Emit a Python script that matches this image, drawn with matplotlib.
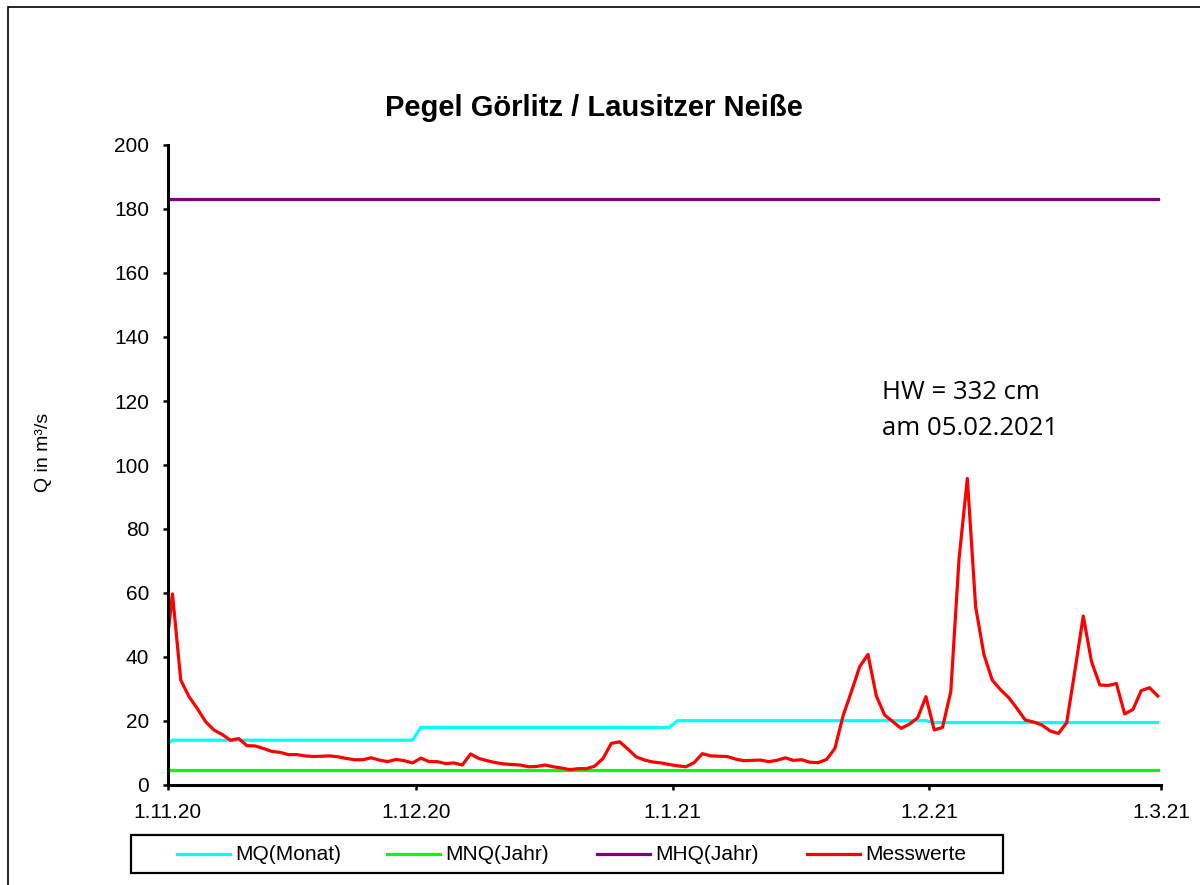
import numpy as np
import matplotlib.pyplot as plt
from matplotlib.patches import Rectangle
from matplotlib.lines import Line2D

plt.rcParams['font.family'] = ['Liberation Sans', 'DejaVu Sans']

# ---------------------------------------------------------------------------
# Daten (Tage ab 1.11.20)
# ---------------------------------------------------------------------------
tick_days = [0, 30, 61, 92, 120]
tick_labels = ["1.11.20", "1.12.20", "1.1.21", "1.2.21", "1.3.21"]

messwerte_start = 46.0
messwerte = [
    59.7, 32.8, 27.6, 23.9, 19.8, 17.2, 15.8, 14.0, 14.5, 12.3,
    12.2, 11.4, 10.5, 10.2, 9.5, 9.5, 9.1, 8.9, 9.0, 9.1,
    8.8, 8.3, 7.9, 7.9, 8.5, 7.8, 7.3, 8.0, 7.6, 6.9,
    8.4, 7.3, 7.3, 6.7, 6.9, 6.25, 9.7, 8.3, 7.6, 7.0,
    6.6, 6.4, 6.25, 5.7, 5.8, 6.25, 5.7, 5.3, 4.8, 5.1,
    5.1, 5.9, 8.3, 13.0, 13.5, 11.25, 8.8, 7.8, 7.2, 6.9,
    6.4, 6.0, 5.7, 7.0, 9.8, 9.1, 9.0, 8.9, 8.1, 7.6,
    7.7, 7.8, 7.3, 7.7, 8.5, 7.7, 7.9, 7.1, 7.0, 8.0,
    11.4, 21.7, 29.2, 37.0, 40.8, 27.9, 21.9, 19.8, 17.7, 19.0,
    21.0, 27.6, 17.2, 18.0, 29.2, 70.8, 95.8, 55.7, 40.8, 32.8,
    29.8, 27.3, 23.9, 20.3, 19.7, 18.75, 16.9, 16.1, 19.5, 35.9,
    52.8, 38.5, 31.25, 31.1, 31.7, 22.2, 23.6, 29.5, 30.4, 27.8,
]

mq_start = 13.0
mq_monat = [14.0, 18.0, 20.1, 19.5]      # Nov, Dez, Jan, Feb
tage_monat = [30, 31, 31, 28]
mnq_jahr = 4.8
mhq_jahr = 183.0

# x-Positionen: Startwert bei 0, dann Tageswerte
x = np.concatenate([[0.0], 0.6 + np.arange(len(messwerte))])
q_mess = np.concatenate([[messwerte_start], messwerte])
q_mq = np.concatenate([[mq_start], np.repeat(mq_monat, tage_monat)])
q_mnq = np.full(len(x), mnq_jahr)
q_mhq = np.full(len(x), mhq_jahr)

# ---------------------------------------------------------------------------
# Grafik
# ---------------------------------------------------------------------------
W, H = 1200, 885
fig = plt.figure(figsize=(12, 8.85), dpi=100)
ax = fig.add_axes([167.5 / W, 1 - 785 / H, 993.6 / W, 640 / H])

lw = 2.3
serien = [
    (q_mq, "#00FFFF", "MQ(Monat)"),
    (q_mnq, "#00FF00", "MNQ(Jahr)"),
    (q_mhq, "#800080", "MHQ(Jahr)"),
    (q_mess, "#FF0000", "Messwerte"),
]
for werte, farbe, name in serien:
    ax.plot(x, werte, color=farbe, lw=lw, label=name)

ax.set_xlim(0, 120)
ax.set_ylim(0, 200)
ax.set_yticks(np.arange(0, 201, 20))
ax.set_xticks(tick_days)
ax.set_xticklabels(tick_labels)
ax.tick_params(axis="both", labelsize=15, direction="out", length=3.8,
               width=1.8, color="black")
ax.tick_params(axis="x", pad=9)
ax.tick_params(axis="y", pad=9.5)
for side in ("top", "right"):
    ax.spines[side].set_visible(False)
for side in ("left", "bottom"):
    ax.spines[side].set_linewidth(2.2)

fig.text(43 / W, 1 - 452 / H, "Q in m³/s", rotation=90,
         ha="center", va="center", fontsize=14)
fig.text(594 / W, 1 - 108 / H, "Pegel Görlitz / Lausitzer Neiße",
         ha="center", va="center", fontsize=21, fontweight="bold")

anno_font = ["Open Sans", "DejaVu Sans"]
ax.text(86.3, 120.6, "HW = 332 cm", fontsize=18.5, family=anno_font,
        ha="left", va="baseline")
ax.text(86.3, 109.4, "am 05.02.2021", fontsize=18.5, family=anno_font,
        ha="left", va="baseline")

# Legende (Excel-Stil: Einträge gleichmäßig verteilt, Rahmen)
fig.add_artist(Rectangle((130.5 / W, 1 - 872.5 / H), 872.5 / W, 37.5 / H,
                         transform=fig.transFigure, fill=False,
                         edgecolor="black", lw=1.6))
leg_x0 = 177
leg_dx = 210
leg_y = 1 - 854 / H
for k, (_, farbe, name) in enumerate(serien):
    x0 = leg_x0 + k * leg_dx
    fig.add_artist(Line2D([x0 / W, (x0 + 53) / W], [leg_y, leg_y],
                          transform=fig.transFigure, color=farbe, lw=lw))
    fig.text((x0 + 58) / W, leg_y, name, fontsize=15,
             ha="left", va="center")

# Rahmen um die Grafik
fig.add_artist(Rectangle((8 / W, -0.05), 1.1, 1 - 7 / H + 0.05,
                         transform=fig.transFigure, fill=False,
                         edgecolor="black", lw=1.2))

fig.savefig("out.png", dpi=100)
